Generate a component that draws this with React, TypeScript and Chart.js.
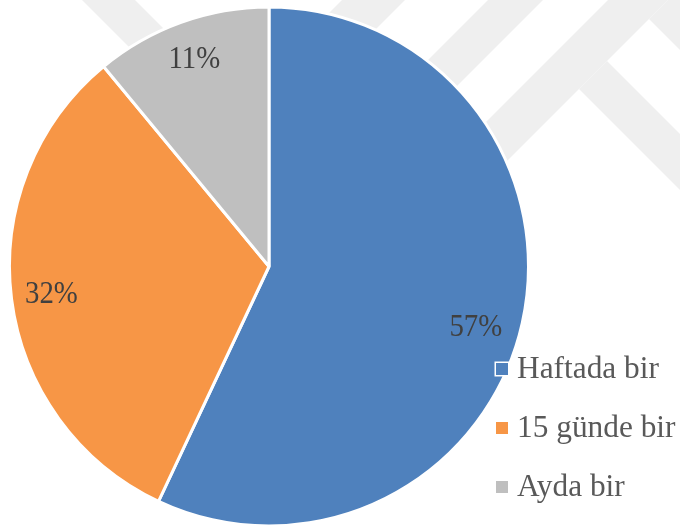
import React, { useEffect, useRef } from "react";
import { Chart, registerables } from "chart.js";

Chart.register(...registerables);

const categories = ["Haftada bir", "15 günde bir", "Ayda bir"];
const values = [57, 32, 11];
const colors = ["#4F81BD", "#F79646", "#BFBFBF"];

// label placement (fraction of radius, angular nudge in degrees)
const labelRadiusFraction = [0.83, 0.845, 0.85];
const labelAngleNudge = [3.6, 0, 0];

const FONT = '"Liberation Serif", "Times New Roman", serif';
const LABEL_SIZE = 31;
const LABEL_XSCALE = 0.93;
const LEGEND_SIZE = 32;
const LEGEND_XSCALE = 0.98;

// faint background watermark bands (decoration only)
const watermarkBands: number[][][] = [
  [[608, 0], [668, 0], [408, 260], [348, 260]],
  [[488, 0], [543, 0], [343, 200], [288, 200]],
  [[342, 0], [405, 0], [205, 200], [142, 200]],
  [[607, 61], [579, 89], [700, 210], [700, 154]],
  [[649, 19], [700, 70], [700, -10], [678, -10]],
  [[82, 0], [135, 0], [335, 200], [282, 200]],
];

const watermark = {
  id: "watermark",
  beforeDraw(chart: any) {
    const ctx = chart.ctx;
    ctx.save();
    ctx.fillStyle = "#FFFFFF";
    ctx.fillRect(0, 0, chart.width, chart.height);
    ctx.fillStyle = "#EFEFEF";
    watermarkBands.forEach((poly) => {
      ctx.beginPath();
      poly.forEach(([px, py], i) => (i ? ctx.lineTo(px, py) : ctx.moveTo(px, py)));
      ctx.closePath();
      ctx.fill();
    });
    ctx.restore();
  },
};

function drawText(ctx: any, text: string, x: number, y: number, align: string, sx: number) {
  ctx.save();
  ctx.translate(x, y);
  ctx.scale(sx, 1);
  ctx.textAlign = align;
  ctx.fillText(text, 0, 0);
  ctx.restore();
}

const pieLabels = {
  id: "pieLabels",
  afterDatasetsDraw(chart: any) {
    const ctx = chart.ctx;
    const meta = chart.getDatasetMeta(0);
    const total = values.reduce((a, b) => a + b, 0);
    ctx.save();
    ctx.font = `${LABEL_SIZE}px ${FONT}`;
    ctx.fillStyle = "#404040";
    ctx.textBaseline = "middle";
    meta.data.forEach((arc: any, i: number) => {
      const { x, y, startAngle, endAngle, outerRadius } = arc.getProps(
        ["x", "y", "startAngle", "endAngle", "outerRadius"],
        true
      );
      const mid = (startAngle + endAngle) / 2 + (labelAngleNudge[i] * Math.PI) / 180;
      const r = outerRadius * labelRadiusFraction[i];
      const pct = Math.round((values[i] / total) * 100) + "%";
      drawText(ctx, pct, x + Math.cos(mid) * r, y + Math.sin(mid) * r + 1, "center", LABEL_XSCALE);
    });
    ctx.restore();
  },
};

const customLegend = {
  id: "customLegend",
  afterDraw(chart: any) {
    const ctx = chart.ctx;
    const left = 496;
    const top = 369;
    const step = 59;
    const box = 12;
    ctx.save();
    ctx.font = `${LEGEND_SIZE}px ${FONT}`;
    ctx.textBaseline = "middle";
    categories.forEach((label, i) => {
      const cy = top + i * step;
      ctx.fillStyle = colors[i];
      ctx.strokeStyle = "#FFFFFF";
      ctx.lineWidth = 3;
      ctx.strokeRect(left, cy - box / 2, box, box);
      ctx.fillRect(left, cy - box / 2, box, box);
      ctx.fillStyle = "#595959";
      drawText(ctx, label, left + 21, cy + 1, "left", LEGEND_XSCALE);
    });
    ctx.restore();
  },
};

export default function App() {
  const ref = useRef<HTMLCanvasElement | null>(null);
  useEffect(() => {
    if (!ref.current) return;
    const chart = new Chart(ref.current, {
      type: "pie",
      data: {
        labels: categories,
        datasets: [
          {
            data: values,
            backgroundColor: colors,
            borderColor: "#FFFFFF",
            borderWidth: 3,
          },
        ],
      },
      options: {
        responsive: false,
        animation: false,
        layout: { padding: { left: 8, right: 150, top: 5, bottom: 0 } },
        plugins: {
          legend: { display: false },
          tooltip: { enabled: false },
        },
      },
      plugins: [watermark, pieLabels, customLegend],
    });
    return () => chart.destroy();
  }, []);
  return (
    <div style={{ position: "fixed", left: 0, top: 0, width: 680, height: 528, background: "#fff" }}>
      <canvas ref={ref} width={680} height={528} />
    </div>
  );
}
